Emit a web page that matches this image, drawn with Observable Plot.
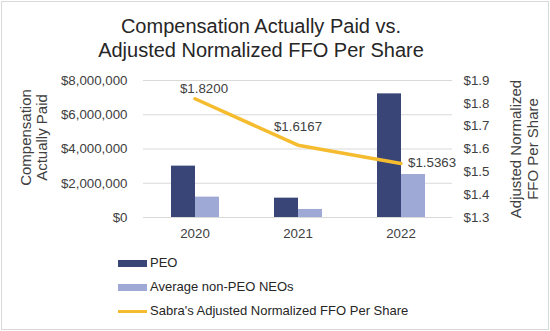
<!DOCTYPE html>
<html><head><meta charset="utf-8">
<script src="https://cdn.jsdelivr.net/npm/d3@7"></script>
<script src="https://cdn.jsdelivr.net/npm/@observablehq/plot@0.6"></script>
<style>
body{margin:0;background:#fff;font-family:"Liberation Sans",Arial,sans-serif;}
#frame{position:absolute;left:1px;top:1px;width:546px;height:327px;border:1px solid #d9d9d9;box-sizing:content-box;}
#title{position:absolute;left:0;top:14px;width:522px;text-align:center;font-size:20px;line-height:24px;color:#262626;}
#chart{position:absolute;left:0;top:60px;}
#legend{position:absolute;left:118px;top:252px;font-size:13px;color:#262626;}
.row{position:absolute;left:0;white-space:nowrap;height:16px;line-height:16px;width:400px;}
.sw{position:absolute;left:0;width:29px;}
.lab{position:absolute;left:32px;top:0;}
</style>
</head><body>
<div id="frame"></div>
<div id="title">Compensation Actually Paid vs.<br>Adjusted Normalized FFO Per Share</div>
<div id="chart"></div>
<div id="legend"></div>
<script>
const years = ["2020", "2021", "2022"];
const peo = [3000000, 1130000, 7220000];
const nonPeo = [1190000, 470000, 2510000];
const ffo = [1.8200, 1.6167, 1.5363];
const ffoLabels = ["$1.8200", "$1.6167", "$1.5363"];
const leftTicks = [0, 2000000, 4000000, 6000000, 8000000];
const rightTicks = [1.3, 1.4, 1.5, 1.6, 1.7, 1.8, 1.9];
const seriesNames = ["PEO", "Average non-PEO NEOs", "Sabra's Adjusted Normalized FFO Per Share"];
const colors = ["#3A4577", "#9FA9D5", "#F5BC2F"];

const leftMax = 8000000, rMin = 1.3, rMax = 1.9;
const toLeft = v => (v - rMin) / (rMax - rMin) * leftMax;
const fromLeft = d => rMin + d / leftMax * (rMax - rMin);

const rows = years.map((y, i) => ({year: y, peo: peo[i], non: nonPeo[i], ffoY: toLeft(ffo[i]), label: ffoLabels[i]}));

const chart = Plot.plot({
  width: 550, height: 185,
  marginTop: 20, marginBottom: 28, marginLeft: 143, marginRight: 98,
  style: {fontFamily: '"Liberation Sans", Arial, sans-serif', fontSize: "13.3px", color: "#404040", background: "transparent", overflow: "visible"},
  x: {type: "band", domain: years, padding: 0},
  y: {domain: [0, leftMax]},
  marks: [
    Plot.gridY(leftTicks, {stroke: "#d9d9d9", strokeOpacity: 1, strokeWidth: 1}),
    Plot.barY(rows, {x: "year", y: "peo", fill: colors[0], insetLeft: 28, insetRight: 51}),
    Plot.barY(rows, {x: "year", y: "non", fill: colors[1], insetLeft: 52, insetRight: 27}),
    Plot.line(rows, {x: "year", y: "ffoY", stroke: colors[2], strokeWidth: 3.5}),
    Plot.text(rows.slice(0, 1), {x: "year", y: "ffoY", text: "label", dx: 9, dy: -10, fill: "#404040"}),
    Plot.text(rows.slice(1, 2), {x: "year", y: "ffoY", text: "label", dx: 0, dy: -18, fill: "#404040"}),
    Plot.text(rows.slice(2, 3), {x: "year", y: "ffoY", text: "label", dx: 7, dy: -1, textAnchor: "start", fill: "#404040"}),
    Plot.axisX({tickSize: 0, tickPadding: 11, label: null}),
    Plot.axisY(leftTicks, {anchor: "left", tickSize: 0, tickPadding: 16, tickFormat: d3.format("$,"), label: null}),
    Plot.axisY(rightTicks.map(toLeft), {anchor: "right", tickSize: 0, tickPadding: 11, tickFormat: d => "$" + fromLeft(d).toFixed(1), label: null}),
    Plot.text(["Compensation\nActually Paid"], {text: d => d, frameAnchor: "left", textAnchor: "middle", lineAnchor: "middle", dx: -110, dy: -11.5, rotate: -90, fontSize: 15, lineHeight: 1.1, fill: "#404040"}),
    Plot.text(["Adjusted Normalized\nFFO Per Share"], {text: d => d, frameAnchor: "right", textAnchor: "middle", lineAnchor: "middle", dx: 71.5, rotate: -90, fontSize: 15, lineHeight: 1.13, fill: "#404040"})
  ]
});
document.getElementById("chart").appendChild(chart);

const legend = document.getElementById("legend");
seriesNames.forEach((name, i) => {
  const row = document.createElement("div");
  row.className = "row";
  row.style.top = (3 + i * 24) + "px";
  const sw = document.createElement("div");
  sw.className = "sw";
  sw.style.background = colors[i];
  if (i < 2) { sw.style.top = "5px"; sw.style.height = "7px"; }
  else { sw.style.top = "7px"; sw.style.height = "3px"; }
  const lab = document.createElement("span");
  lab.className = "lab";
  lab.textContent = name;
  row.appendChild(sw); row.appendChild(lab);
  legend.appendChild(row);
});
</script>
</body></html>
